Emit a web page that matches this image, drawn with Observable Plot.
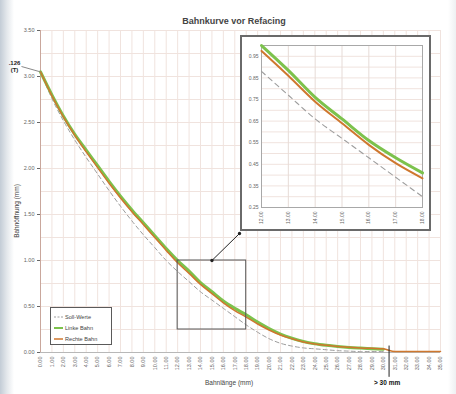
<!DOCTYPE html>
<html>
<head>
<meta charset="utf-8">
<script src="https://cdn.jsdelivr.net/npm/d3@7"></script>
<script src="https://cdn.jsdelivr.net/npm/@observablehq/plot@0.6"></script>
<style>
  html, body { margin: 0; padding: 0; }
  body { width: 456px; height: 394px; overflow: hidden;
         background: linear-gradient(to right, #c3ccd6 0px, #e4e8ec 7px, #ffffff 14px, #ffffff 448px, #eef0f2 456px);
         font-family: "Liberation Sans", Arial, sans-serif; }
  #wrap { position: relative; width: 456px; height: 394px; }
  #main { position: absolute; left: 0; top: 0; }
  .txt { position: absolute; white-space: nowrap; color: #333; }
  #title { left: 0; width: 468px; top: 16px; text-align: center; font-size: 9px; font-weight: bold; color: #444; }
  #xtitle { left: 205px; top: 379px; font-size: 6.5px; color: #444; }
  #xnote { left: 374px; top: 379px; font-size: 6.5px; font-weight: bold; color: #111; }
  #ytitle { left: 16px; top: 211px; font-size: 6.5px; color: #444; transform: translate(-50%, -50%) rotate(-90deg); }
  #inset { position: absolute; left: 240px; top: 35px; width: 191px; height: 196px; box-sizing: border-box;
           border: 2px solid #6a6a6a; background: #fff; }
  #legend { position: absolute; left: 50px; top: 307px; width: 62px; height: 38px; box-sizing: border-box;
            border: 1.5px solid #5a5a5a; background: #fff; font-size: 5.6px; color: #444; padding: 3px 0 0 3px; }
  #legend .row { height: 11px; display: flex; align-items: center; }
  #legend svg { margin-right: 2px; }
</style>
</head>
<body>
<div id="wrap">
  <div id="main"></div>
  <div id="inset"></div>
  <div id="legend"></div>
  <div class="txt" id="title">Bahnkurve vor Refacing</div>
  <div class="txt" id="xtitle">Bahnlänge (mm)</div>
  <div class="txt" id="xnote">&gt; 30 mm</div>
  <div class="txt" id="ytitle">Bahnöffnung (mm)</div>
</div>
<script>
// ---- data ----
const bahnlaenge = d3.range(0, 36); // 0 .. 35 mm
const sollWerte = [3.05, 2.76, 2.52, 2.31, 2.12, 1.94, 1.76, 1.59, 1.43, 1.28, 1.14, 1.00, 0.88, 0.77, 0.66, 0.57, 0.48, 0.39, 0.30, 0.22, 0.15, 0.10, 0.07, 0.05, 0.04, 0.03, 0.02, 0.015, 0.01, 0.01, 0.01];
const linkeBahn = [3.05, 2.80, 2.57, 2.37, 2.20, 2.03, 1.86, 1.70, 1.55, 1.41, 1.27, 1.13, 1.00, 0.885, 0.76, 0.66, 0.56, 0.48, 0.41, 0.33, 0.26, 0.20, 0.155, 0.12, 0.095, 0.078, 0.065, 0.055, 0.048, 0.042, 0.036];
const rechteBahn = [3.05, 2.79, 2.56, 2.36, 2.18, 2.01, 1.84, 1.68, 1.53, 1.39, 1.25, 1.11, 0.975, 0.86, 0.74, 0.64, 0.54, 0.455, 0.385, 0.31, 0.245, 0.19, 0.15, 0.115, 0.092, 0.078, 0.066, 0.058, 0.05, 0.045, 0.04, 0.01, 0.01, 0.01, 0.01, 0.01];

const xTicks = d3.range(0, 36);
const yTicks = [0, 0.5, 1.0, 1.5, 2.0, 2.5, 3.0, 3.5];
const yGrid = d3.range(0, 3.51, 0.25);
const insetXTicks = [12, 13, 14, 15, 16, 17, 18];
const insetYTicks = [0.25, 0.35, 0.45, 0.55, 0.65, 0.75, 0.85, 0.95];
const insetYGrid = d3.range(0.25, 1.001, 0.05);
const insetXDomain = [12, 18];
const insetYDomain = [0.25, 1.0];
const grenze = 30.5;          // "> 30 mm" marker
const startLabel = ".126\n(T)";
const legendItems = ["Soll-Werte", "Linke Bahn", "Rechte Bahn"];

// ---- styles ----
const cSoll = "#9d9d9d", cLinks = "#7cc24c", cRechts = "#cf772e", cGrid = "#f0e3de";
const fmt = d3.format(".2f");

function series(vals) {
  return vals.map((v, i) => ({x: bahnlaenge[i], y: v})).filter(d => d.y != null);
}
const soll = series(sollWerte), links = series(linkeBahn), rechts = series(rechteBahn);

// layout of main chart
const W = 456, H = 394, mL = 40, mR = 16, mT = 30, mB = 42;
const sx = d3.scaleLinear([0, 35], [mL, W - mR]);
const sy = d3.scaleLinear([0, 3.5], [H - mB, mT]);
// inset bottom-left corner (page px) converted to data space for the arrow
const arrowEnd = {x: sx.invert(239), y: sy.invert(233)};
const arrowStart = {x: (insetXDomain[0] + insetXDomain[1]) / 2, y: insetYDomain[1]};

const main = Plot.plot({
  width: W, height: H,
  marginLeft: mL, marginRight: mR, marginTop: mT, marginBottom: mB,
  style: {background: "transparent", fontFamily: "Liberation Sans, Arial, sans-serif", fontSize: "5.5px", color: "#666", overflow: "visible"},
  x: {domain: [0, 35], ticks: xTicks, tickFormat: fmt, tickRotate: -90, tickSize: 0, tickPadding: 4, label: null},
  y: {domain: [0, 3.5], ticks: yTicks, tickFormat: fmt, tickSize: 3, tickPadding: 3, label: null},
  marks: [
    Plot.ruleY(yGrid, {stroke: cGrid}),
    Plot.ruleX(xTicks, {stroke: cGrid}),
    Plot.ruleX([0], {stroke: "#c9a79c"}),
    Plot.ruleY([0], {stroke: "#b8b8b8"}),
    Plot.line(soll, {x: "x", y: "y", stroke: cSoll, strokeWidth: 1, strokeDasharray: "4,3", curve: "monotone-x"}),
    Plot.line(links, {x: "x", y: "y", stroke: cLinks, strokeWidth: 3, curve: "monotone-x"}),
    Plot.line(rechts, {x: "x", y: "y", stroke: cRechts, strokeWidth: 1.5, curve: "monotone-x"}),
    Plot.ruleX([grenze], {y1: 0.07, y2: -0.27, stroke: "#222", strokeWidth: 1}),
    Plot.rect([{x1: insetXDomain[0], x2: insetXDomain[1], y1: insetYDomain[0], y2: insetYDomain[1]}],
      {x1: "x1", x2: "x2", y1: "y1", y2: "y2", fill: "none", stroke: "#555", strokeWidth: 1}),
    Plot.link([{}], {x1: () => arrowStart.x, y1: () => arrowStart.y, x2: () => arrowEnd.x, y2: () => arrowEnd.y,
      stroke: "#222", strokeWidth: 1, markerStart: "dot", markerEnd: "dot"}),
    Plot.link([{}], {x1: () => sx.invert(21), y1: () => sy.invert(66), x2: () => 0, y2: () => sollWerte[0],
      stroke: "#888", strokeWidth: 1}),
    Plot.text([startLabel], {x: () => sx.invert(14), y: () => sy.invert(66), text: d => d,
      fontSize: 6, fontWeight: "bold", fill: "#222", lineHeight: 1.1})
  ]
});
document.getElementById("main").appendChild(main);

// ---- inset ----
const inRange = d => d.x >= insetXDomain[0] && d.x <= insetXDomain[1];
const inset = Plot.plot({
  width: 187, height: 192,
  marginLeft: 19, marginRight: 7, marginTop: 8, marginBottom: 22,
  style: {background: "transparent", fontFamily: "Liberation Sans, Arial, sans-serif", fontSize: "5px", color: "#666"},
  x: {domain: insetXDomain, ticks: insetXTicks, tickFormat: fmt, tickRotate: -90, tickSize: 0, tickPadding: 4, label: null},
  y: {domain: insetYDomain, ticks: insetYTicks, tickFormat: fmt, tickSize: 0, tickPadding: 3, label: null},
  marks: [
    Plot.ruleY(insetYGrid, {stroke: cGrid}),
    Plot.ruleX(insetXTicks, {stroke: "#e6dbd7"}),
    Plot.frame({stroke: "#a8a8a8"}),
    Plot.line(soll.filter(inRange), {x: "x", y: "y", stroke: cSoll, strokeWidth: 1.1, strokeDasharray: "5,4", curve: "monotone-x"}),
    Plot.line(links.filter(inRange), {x: "x", y: "y", stroke: cLinks, strokeWidth: 3, curve: "monotone-x"}),
    Plot.line(rechts.filter(inRange), {x: "x", y: "y", stroke: cRechts, strokeWidth: 2, curve: "monotone-x"})
  ]
});
document.getElementById("inset").appendChild(inset);

// ---- legend ----
const legendStyles = [
  {stroke: cSoll, dash: "2,1.5", w: 1},
  {stroke: cLinks, dash: null, w: 2},
  {stroke: cRechts, dash: null, w: 1.5}
];
const leg = document.getElementById("legend");
legendItems.forEach((name, i) => {
  const s = legendStyles[i];
  const row = document.createElement("div");
  row.className = "row";
  row.innerHTML = `<svg width="9" height="4"><line x1="0" x2="9" y1="2" y2="2" stroke="${s.stroke}" stroke-width="${s.w}" ${s.dash ? `stroke-dasharray="${s.dash}"` : ""}/></svg><span>${name}</span>`;
  leg.appendChild(row);
});
</script>
</body>
</html>
